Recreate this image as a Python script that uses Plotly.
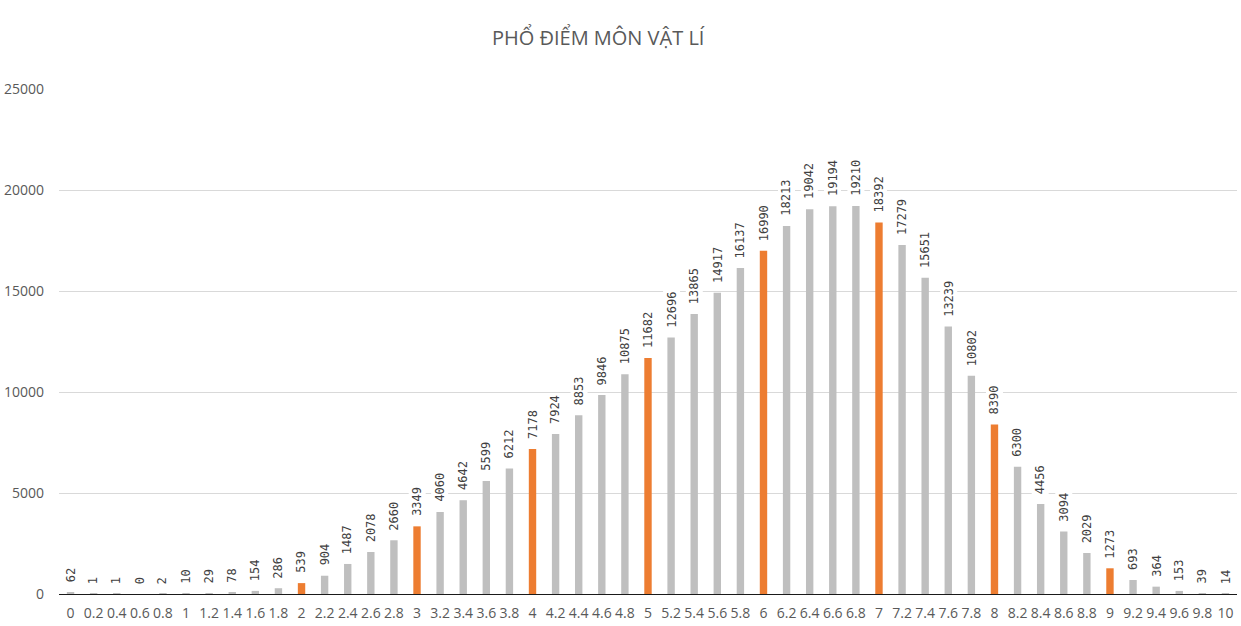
import plotly.graph_objects as go

categories = ["0", "0.2", "0.4", "0.6", "0.8", "1", "1.2", "1.4", "1.6", "1.8",
              "2", "2.2", "2.4", "2.6", "2.8", "3", "3.2", "3.4", "3.6", "3.8",
              "4", "4.2", "4.4", "4.6", "4.8", "5", "5.2", "5.4", "5.6", "5.8",
              "6", "6.2", "6.4", "6.6", "6.8", "7", "7.2", "7.4", "7.6", "7.8",
              "8", "8.2", "8.4", "8.6", "8.8", "9", "9.2", "9.4", "9.6", "9.8", "10"]
counts = [62, 1, 1, 0, 2, 10, 29, 78, 154, 286,
          539, 904, 1487, 2078, 2660, 3349, 4060, 4642, 5599, 6212,
          7178, 7924, 8853, 9846, 10875, 11682, 12696, 13865, 14917, 16137,
          16990, 18213, 19042, 19194, 19210, 18392, 17279, 15651, 13239, 10802,
          8390, 6300, 4456, 3094, 2029, 1273, 693, 364, 153, 39, 14]
highlight = ["2", "3", "4", "5", "6", "7", "8", "9"]
y_ticks = [0, 5000, 10000, 15000, 20000, 25000]

ORANGE = "#ED7D31"
GRAY = "#BFBFBF"
colors = [ORANGE if c in highlight else GRAY for c in categories]

fig = go.Figure()
fig.add_trace(go.Bar(
    x=categories, y=counts, marker=dict(color=colors, line=dict(width=0)),
    hoverinfo="x+y", showlegend=False,
))

for i, v in enumerate(counts):
    fig.add_annotation(
        x=i, y=v, xref="x", yref="y", text=str(v), showarrow=False,
        textangle=-90, yanchor="bottom", xanchor="center", yshift=8,
        bgcolor="white", borderpad=1,
        font=dict(family="DejaVu Sans Mono", size=12, color="#404040"),
    )

fig.update_layout(
    width=1241, height=626,
    paper_bgcolor="white", plot_bgcolor="white",
    margin=dict(l=57, r=4, t=89, b=32),
    bargap=0.68,
    title=dict(
        text="PHỔ ĐIỂM MÔN VẬT LÍ", x=0.482, xanchor="center",
        y=0.94, yanchor="middle",
        font=dict(family="Open Sans", size=20, color="#595959"),
    ),
    xaxis=dict(
        type="category", showgrid=False, ticks="", showline=True,
        linecolor="#1a1a1a", linewidth=1,
        tickfont=dict(family="Open Sans", size=14, color="#595959"),
        tickangle=0, ticklabelstandoff=6,
    ),
    yaxis=dict(
        range=[0, 25000], tickvals=y_ticks, ticktext=[str(t) for t in y_ticks],
        showgrid=True,
        gridcolor="#D9D9D9", gridwidth=1, zeroline=False, showline=False,
        tickfont=dict(family="Open Sans", size=14, color="#595959"),
        ticks="", ticklabelstandoff=14,
    ),
)

fig.write_html("out.html")
